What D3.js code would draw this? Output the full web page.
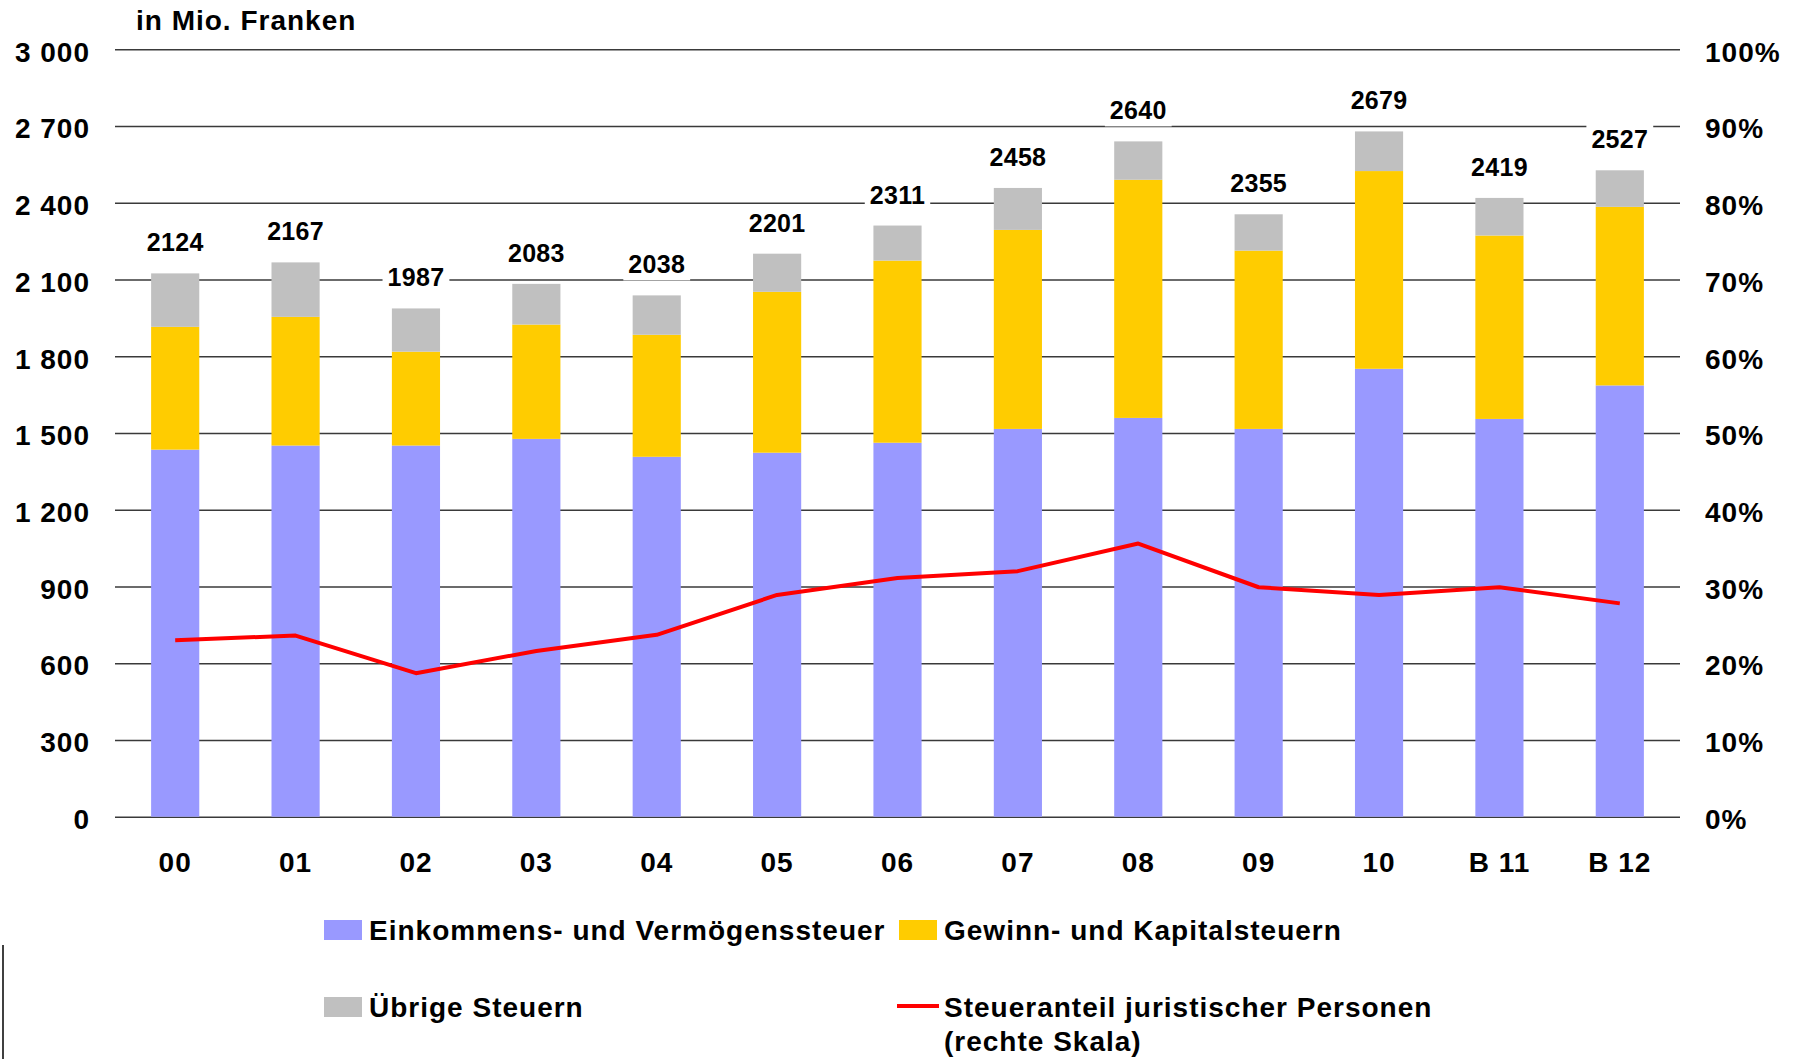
<!DOCTYPE html>
<html>
<head>
<meta charset="utf-8">
<script src="https://cdn.jsdelivr.net/npm/d3@7"></script>
<style>
  body { margin: 0; background: #fff; }
  svg { display: block; font-family: "Liberation Sans", Arial, sans-serif; font-weight: bold; }
  .big { letter-spacing: 1px; }
</style>
</head>
<body>
<svg id="drawing_region"></svg>
<script>
// data
const categories = ["00", "01", "02", "03", "04", "05", "06", "07", "08", "09", "10", "B 11", "B 12"];
const einkommen  = [1435, 1451, 1451, 1477, 1407, 1423, 1462, 1516, 1559, 1516, 1751, 1555, 1686];
const gewinn     = [480, 503, 367, 447, 477, 629, 712, 778, 931, 697, 773, 717, 698];
const uebrige    = [209, 213, 169, 159, 154, 149, 137, 164, 150, 142, 155, 147, 143];
const anteil     = [23.0, 23.6, 18.7, 21.6, 23.7, 28.9, 31.1, 32.0, 35.6, 29.9, 28.9, 29.9, 27.8];
const leftTicks  = [0, 300, 600, 900, 1200, 1500, 1800, 2100, 2400, 2700, 3000];
const rightTicks = [0, 10, 20, 30, 40, 50, 60, 70, 80, 90, 100];

const seriesKeys = ["einkommen", "gewinn", "uebrige"];
const seriesNames = {
    einkommen: "Einkommens- und Vermögenssteuer",
    gewinn: "Gewinn- und Kapitalsteuern",
    uebrige: "Übrige Steuern"
};
const colors = { einkommen: "#9999ff", gewinn: "#ffcc00", uebrige: "#c0c0c0" };

const config = {
    width: 1796,
    height: 1059,
    margin: { top: 49.3, right: 116, bottom: 242.3, left: 115 }
};

const table = categories.map((c, i) => ({
    label: c, einkommen: einkommen[i], gewinn: gewinn[i], uebrige: uebrige[i], anteil: anteil[i]
}));

const svg = d3.select("#drawing_region")
    .attr("width", config.width)
    .attr("height", config.height);

const inner_width = config.width - config.margin.left - config.margin.right;
const inner_height = config.height - config.margin.top - config.margin.bottom;

const chart = svg.append("g")
    .attr("transform", `translate(${config.margin.left}, ${config.margin.top})`);

const xscale = d3.scaleBand()
    .domain(categories)
    .range([0, inner_width])
    .paddingInner(0.6)
    .paddingOuter(0.3);

const yscale = d3.scaleLinear().domain([0, 3000]).range([inner_height, 0]);
const pscale = d3.scaleLinear().domain([0, 100]).range([inner_height, 0]);

// left axis with gridlines
const yaxis_group = chart.append("g")
    .call(d3.axisLeft(yscale)
        .tickValues(leftTicks)
        .tickSizeInner(-inner_width)
        .tickSizeOuter(0)
        .tickPadding(25)
        .tickFormat(d => d3.format(",")(d).replace(",", " ")));
yaxis_group.select(".domain").remove();
yaxis_group.attr("font-family", null).attr("font-size", null);
yaxis_group.selectAll(".tick line").attr("stroke", "#3a3a3a").attr("stroke-width", 1.5);
yaxis_group.selectAll(".tick text")
    .attr("class", "big")
    .attr("font-size", "28px").attr("fill", "#000").attr("dy", "0.42em");

// right axis
const paxis_group = chart.append("g")
    .attr("transform", `translate(${inner_width}, 0)`)
    .call(d3.axisRight(pscale)
        .tickValues(rightTicks)
        .tickSize(0)
        .tickPadding(25)
        .tickFormat(d => d + "%"));
paxis_group.select(".domain").remove();
paxis_group.attr("font-family", null).attr("font-size", null);
paxis_group.selectAll(".tick text")
    .attr("class", "big")
    .attr("font-size", "28px").attr("fill", "#000").attr("dy", "0.42em");

// bottom axis
const xaxis_group = chart.append("g")
    .attr("transform", `translate(0, ${inner_height})`)
    .call(d3.axisBottom(xscale).tickSize(0).tickPadding(35));
xaxis_group.select(".domain").remove();
xaxis_group.attr("font-family", null).attr("font-size", null);
xaxis_group.selectAll(".tick text")
    .attr("class", "big")
    .attr("font-size", "28px").attr("fill", "#000");

// stacked bars
const stacked = d3.stack().keys(seriesKeys)(table);

chart.append("g").selectAll("g")
    .data(stacked)
    .join("g")
    .attr("fill", d => colors[d.key])
    .selectAll("rect")
    .data(d => d)
    .join("rect")
    .attr("x", d => xscale(d.data.label))
    .attr("y", d => yscale(d[1]))
    .attr("width", xscale.bandwidth())
    .attr("height", d => yscale(d[0]) - yscale(d[1]));

// total labels with white background
const top_layer = stacked[stacked.length - 1];
const labels = chart.append("g").selectAll("g")
    .data(top_layer)
    .join("g")
    .attr("transform", d => `translate(${xscale(d.data.label) + xscale.bandwidth() / 2}, ${yscale(d[1]) - 22})`);

labels.append("rect").attr("fill", "#fff");
labels.append("text")
    .attr("text-anchor", "middle")
    .attr("font-size", "25px")
    .attr("letter-spacing", "0.3px")
    .attr("fill", "#000")
    .text(d => d[1]);
labels.each(function() {
    const g = d3.select(this);
    const box = g.select("text").node().getBBox();
    g.select("rect")
        .attr("x", box.x - 5).attr("y", box.y - 2)
        .attr("width", box.width + 10).attr("height", box.height + 4);
});

// share line (right scale)
const line = d3.line()
    .x(d => xscale(d.label) + xscale.bandwidth() / 2)
    .y(d => pscale(d.anteil));

chart.append("path")
    .datum(table)
    .attr("fill", "none")
    .attr("stroke", "#ff0000")
    .attr("stroke-width", 4)
    .attr("stroke-linejoin", "round")
    .attr("d", line);

// title
svg.append("text")
    .attr("class", "big")
    .attr("x", 136)
    .attr("y", 30)
    .attr("font-size", "28px")
    .text("in Mio. Franken");

// legend
const legend = svg.append("g");
const legendItems = [
    { key: "einkommen", x: 324, y: 920 },
    { key: "gewinn", x: 899, y: 920 },
    { key: "uebrige", x: 324, y: 997 }
];
legendItems.forEach(item => {
    legend.append("rect")
        .attr("x", item.x).attr("y", item.y)
        .attr("width", 38).attr("height", 20)
        .attr("fill", colors[item.key]);
    legend.append("text")
        .attr("class", "big")
        .attr("x", item.x + 45).attr("y", item.y + 20)
        .attr("font-size", "28px")
        .text(seriesNames[item.key]);
});
legend.append("line")
    .attr("x1", 897).attr("x2", 939)
    .attr("y1", 1006).attr("y2", 1006)
    .attr("stroke", "#ff0000").attr("stroke-width", 4);
legend.append("text")
    .attr("class", "big")
    .attr("x", 944).attr("y", 1017)
    .attr("font-size", "28px")
    .text("Steueranteil juristischer Personen");
legend.append("text")
    .attr("class", "big")
    .attr("x", 944).attr("y", 1051)
    .attr("font-size", "28px")
    .text("(rechte Skala)");

// stray frame edge at the lower left
svg.append("line")
    .attr("x1", 3).attr("x2", 3)
    .attr("y1", 945).attr("y2", 1059)
    .attr("stroke", "#000").attr("stroke-width", 1.5);
</script>
</body>
</html>
